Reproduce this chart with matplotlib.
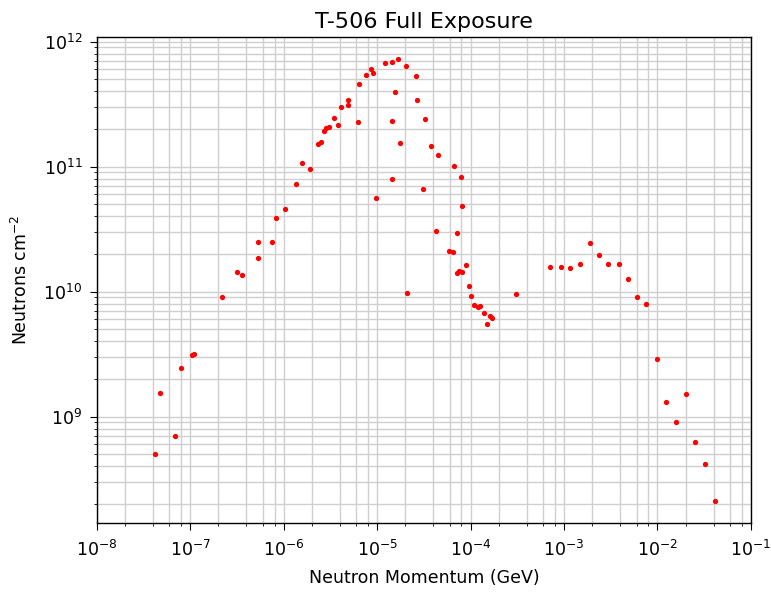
import matplotlib
matplotlib.use("Agg")
import matplotlib.pyplot as plt
from matplotlib.ticker import LogLocator

# neutron momentum (GeV) and fluence (neutrons / cm^2)
momentum = [4.20e-8, 4.79e-8, 6.82e-8, 8.04e-8, 1.045e-7, 1.09e-7, 2.20e-7,
            3.14e-7, 3.58e-7, 5.31e-7, 5.31e-7, 7.55e-7, 8.34e-7, 1.04e-6,
            1.36e-6, 1.59e-6, 1.91e-6, 2.34e-6, 2.51e-6, 2.68e-6, 2.86e-6,
            3.05e-6, 3.47e-6, 3.84e-6, 4.10e-6, 4.83e-6, 4.83e-6, 6.24e-6,
            6.44e-6, 7.59e-6, 8.59e-6, 8.95e-6, 9.77e-6, 1.23e-5, 1.45e-5,
            1.45e-5, 1.45e-5, 1.55e-5, 1.66e-5, 1.75e-5, 2.02e-5, 2.07e-5,
            2.60e-5, 2.69e-5, 3.07e-5, 3.27e-5, 3.73e-5, 4.32e-5, 4.50e-5,
            5.86e-5, 6.47e-5, 6.62e-5, 7.13e-5, 7.08e-5, 7.59e-5, 7.87e-5,
            8.13e-5, 8.06e-5, 8.91e-5, 9.53e-5, 1.014e-4, 1.08e-4, 1.20e-4,
            1.27e-4, 1.41e-4, 1.51e-4, 1.61e-4, 1.71e-4, 3.08e-4, 7.10e-4,
            9.25e-4, 1.16e-3, 1.47e-3, 1.90e-3, 2.39e-3, 2.98e-3, 3.83e-3,
            4.85e-3, 6.05e-3, 7.62e-3, 9.91e-3, 1.24e-2, 1.56e-2, 2.02e-2,
            2.55e-2, 3.21e-2, 4.17e-2]
fluence = [5.06e8, 1.54e9, 6.96e8, 2.44e9, 3.14e9, 3.20e9, 9.06e9,
           1.44e10, 1.37e10, 2.51e10, 1.87e10, 2.51e10, 3.87e10, 4.59e10,
           7.28e10, 1.07e11, 9.52e10, 1.51e11, 1.57e11, 1.93e11, 2.05e11,
           2.06e11, 2.45e11, 2.16e11, 2.97e11, 3.44e11, 3.12e11, 2.29e11,
           4.60e11, 5.45e11, 6.06e11, 5.56e11, 5.58e10, 6.76e11, 6.92e11,
           2.33e11, 8.02e10, 3.97e11, 7.28e11, 1.55e11, 6.43e11, 9.75e9,
           5.33e11, 3.43e11, 6.59e10, 2.39e11, 1.47e11, 3.05e10, 1.24e11,
           2.12e10, 2.07e10, 1.02e11, 2.97e10, 1.41e10, 1.46e10, 8.22e10,
           1.43e10, 4.82e10, 1.62e10, 1.10e10, 9.26e9, 7.85e9, 7.50e9,
           7.63e9, 6.80e9, 5.56e9, 6.41e9, 6.15e9, 9.52e9, 1.58e10,
           1.58e10, 1.54e10, 1.66e10, 2.44e10, 1.96e10, 1.66e10, 1.66e10,
           1.27e10, 9.06e9, 8.02e9, 2.90e9, 1.30e9, 9.06e8, 1.51e9,
           6.31e8, 4.16e8, 2.12e8]

plt.rcParams['font.size'] = 12.5
plt.rcParams['axes.linewidth'] = 1.0
plt.rcParams['xtick.major.size'] = 4.8
plt.rcParams['ytick.major.size'] = 4.8
plt.rcParams['xtick.minor.size'] = 2.4
plt.rcParams['ytick.minor.size'] = 2.4
plt.rcParams['xtick.major.pad'] = 7.5
plt.rcParams['ytick.major.pad'] = 5.5

fig = plt.figure(figsize=(7.71, 5.93), dpi=100)
ax = fig.add_axes([0.1254, 0.118, 0.8486, 0.8201])

ax.plot(momentum, fluence, 'o', color='red', markersize=3.8, markeredgewidth=0)
ax.set_xscale('log')
ax.set_yscale('log')
ax.set_xlim(1e-8, 1e-1)
# only even sub-decade ticks on the wide momentum axis
ax.xaxis.set_minor_locator(LogLocator(base=10, subs=(2.0, 4.0, 6.0, 8.0), numticks=20))
ax.grid(True, which='both', color='#cfcfcf', linewidth=1.0)
ax.set_axisbelow(True)

ax.set_title('T-506 Full Exposure', fontsize=16, pad=6)
ax.set_xlabel('Neutron Momentum (GeV)', labelpad=6)
ax.set_ylabel('Neutrons cm$^{-2}$', labelpad=9)

fig.savefig('out.png', dpi=100)
